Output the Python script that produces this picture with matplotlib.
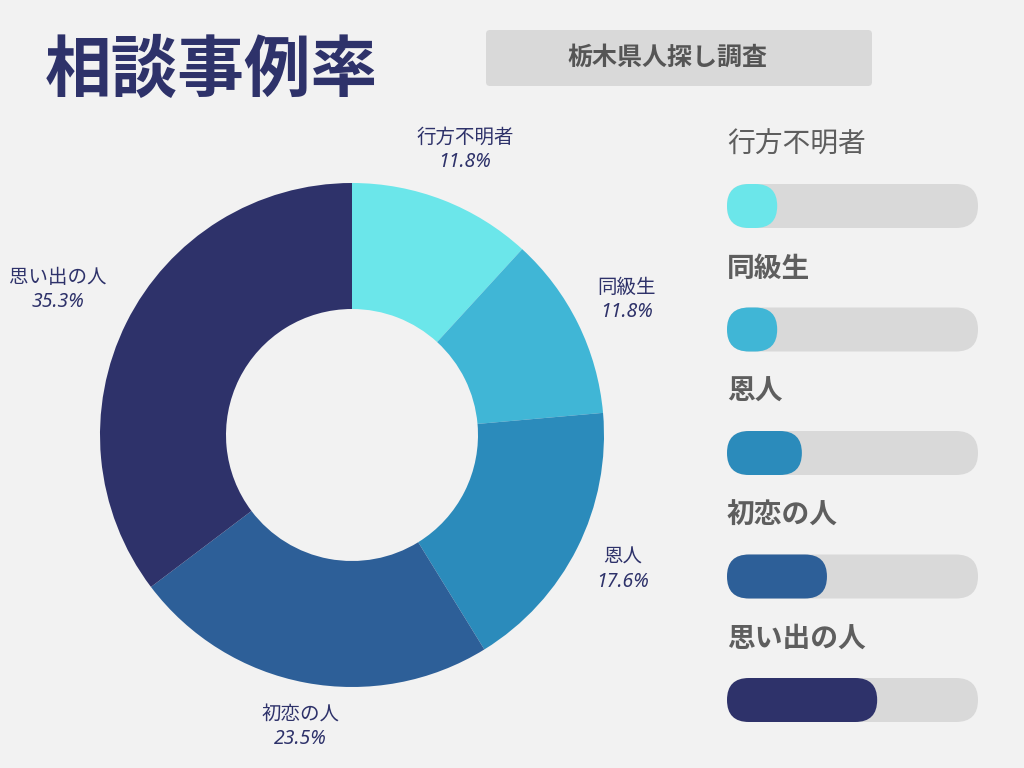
import matplotlib
matplotlib.use("Agg")
import matplotlib.pyplot as plt
from matplotlib.patches import FancyBboxPatch

plt.rcParams['font.family'] = ['Noto Sans CJK JP', 'DejaVu Sans']

# ─── Data ───────────────────────────────────────────────
categories = ["行方不明者", "同級生", "恩人", "初恋の人", "思い出の人"]
values = [11.8, 11.8, 17.6, 23.5, 35.3]
colors = ["#6BE6EA", "#40B6D6", "#2B8BBB", "#2D5F98", "#2E326A"]
label_pos = [(465, 150), (627, 300), (623, 570), (300, 727), (58, 290)]

BG = "#F2F2F2"
NAVY = "#2E326A"
GRAY = "#5E5E5E"

fig = plt.figure(figsize=(10.24, 7.68), dpi=100)
fig.patch.set_facecolor(BG)

ax = fig.add_axes([0, 0, 1, 1])
ax.set_xlim(0, 1024)
ax.set_ylim(768, 0)
ax.axis("off")

# donut
cx, cy, r = 352, 435, 252
pax = fig.add_axes([(cx - r) / 1024, (768 - cy - r) / 768, 2 * r / 1024, 2 * r / 768])
pax.pie(values, colors=colors, startangle=90, counterclock=False,
        wedgeprops=dict(width=0.5, edgecolor="none"))
pax.set_xlim(-1, 1)
pax.set_ylim(-1, 1)
pax.axis("off")

for (x, y), cat, v in zip(label_pos, categories, values):
    ax.text(x, y, f"{cat}\n{v}%", ha="center", va="center", fontsize=14,
            color=NAVY, style="italic", linespacing=1.3,
            family=["Noto Sans", "Noto Sans CJK JP"])

# title and badge
ax.text(45, 72, "相談事例率", fontsize=48, fontweight="bold", color=NAVY, va="center")
ax.add_patch(FancyBboxPatch((488, 32), 382, 52, boxstyle="round,pad=2,rounding_size=4",
                            fc="#D9D9D9", ec="none"))
ax.text(667, 58, "栃木県人探し調査", fontsize=18, fontweight="bold", color="#555555",
        ha="center", va="center")

# progress bars
bx, bw, bh = 727, 251, 44
for i, (cat, v, c) in enumerate(zip(categories, values, colors)):
    ty = 145 + i * 123.5
    yb = 184 + i * 123.5
    ax.text(bx, ty, cat, fontsize=20, color=GRAY, va="center",
            fontweight="normal" if i == 0 else "bold")
    ax.add_patch(FancyBboxPatch((bx, yb), bw, bh,
                                boxstyle=f"round,pad=0,rounding_size={bh/2}",
                                fc="#D9D9D9", ec="none"))
    fw = bw * v / 59
    ax.add_patch(FancyBboxPatch((bx, yb), fw, bh,
                                boxstyle=f"round,pad=0,rounding_size={bh/2}",
                                fc=c, ec="none"))

fig.savefig("out.png", dpi=100, facecolor=fig.get_facecolor())
